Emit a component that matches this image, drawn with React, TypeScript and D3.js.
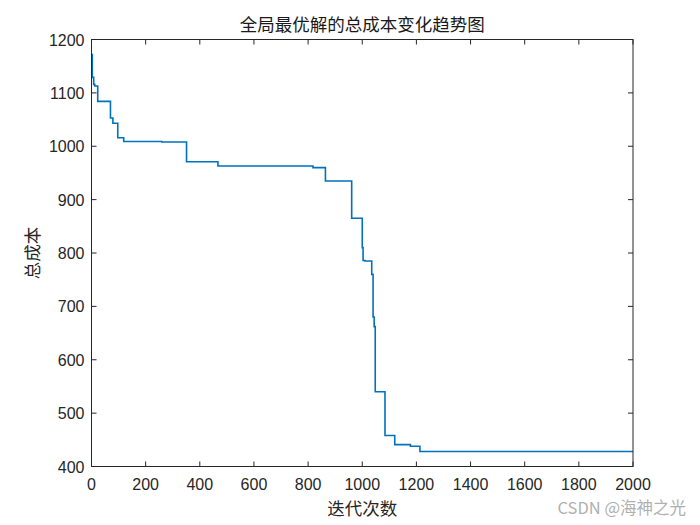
import * as d3 from 'd3'

// iterations where the best cost changes, and the cost from that point on
const iters = [0, 3, 8, 12, 23, 70, 79, 97, 119, 260, 351, 467, 818, 864, 961, 1000, 1003, 1010, 1035, 1040, 1044, 1048, 1052, 1084, 1120, 1178, 1213, 2000]
const costs = [1172, 1129, 1116, 1113, 1084, 1053, 1043, 1016, 1009, 1008, 971, 963, 960, 935, 865, 810, 786, 785, 760, 680, 662, 540, 540, 458, 441, 438, 428, 428]

const xTicks = [0, 200, 400, 600, 800, 1000, 1200, 1400, 1600, 1800, 2000]
const yTicks = [400, 500, 600, 700, 800, 900, 1000, 1100, 1200]

const title = '全局最优解的总成本变化趋势图'
const xLabel = '迭代次数'
const yLabel = '总成本'

export default function App() {
  const W = 700
  const H = 525
  const m = { left: 91.5, right: 67, top: 39.5, bottom: 58.5 }
  const x = d3.scaleLinear().domain([0, 2000]).range([m.left, W - m.right])
  const y = d3.scaleLinear().domain([400, 1200]).range([H - m.bottom, m.top])
  const pts = iters.map((it, i) => [it, costs[i]] as [number, number])
  const path = d3.line<[number, number]>()
    .x(d => x(d[0]))
    .y(d => y(d[1]))
    .curve(d3.curveStepAfter)(pts) || ''
  const font = '"Liberation Sans", Arial, sans-serif'
  const cjk = '"Noto Sans CJK SC", sans-serif'
  const tk = 5
  const x0 = x(0), x1 = x(2000), y0 = y(400), y1 = y(1200)

  return (
    <svg width={W} height={H} style={{ position: 'absolute', left: 0, top: 0, background: '#fff' }}>
      <rect x={0} y={0} width={W} height={H} fill="#fff" />
      <path d={path} fill="none" stroke="#0072BD" strokeWidth={1.6} />
      <g stroke="#262626" strokeWidth={1}>
        {xTicks.map(t => (
          <g key={'x' + t}>
            <line x1={x(t)} x2={x(t)} y1={y0} y2={y0 - tk} />
            <line x1={x(t)} x2={x(t)} y1={y1} y2={y1 + tk} />
          </g>
        ))}
        {yTicks.map(t => (
          <g key={'y' + t}>
            <line x1={x0} x2={x0 + tk} y1={y(t)} y2={y(t)} />
            <line x1={x1} x2={x1 - tk} y1={y(t)} y2={y(t)} />
          </g>
        ))}
        <rect x={x0} y={y1} width={x1 - x0} height={y0 - y1} fill="none" />
      </g>
      <g fontFamily={font} fontSize={16} fill="#262626">
        {xTicks.map(t => (
          <text key={'xl' + t} x={x(t)} y={y0 + 23} textAnchor="middle">{t}</text>
        ))}
        {yTicks.map(t => (
          <text key={'yl' + t} x={x0 - 7} y={y(t) + 6} textAnchor="end">{t}</text>
        ))}
      </g>
      <text x={(x0 + x1) / 2} y={31} textAnchor="middle" fontFamily={cjk} fontSize={17.5} fill="#1a1a1a">{title}</text>
      <text x={(x0 + x1) / 2} y={515} textAnchor="middle" fontFamily={cjk} fontSize={17.5} fill="#262626">{xLabel}</text>
      <text transform={`translate(39,${(y0 + y1) / 2}) rotate(-90)`} textAnchor="middle" fontFamily={cjk} fontSize={17.5} fill="#262626">{yLabel}</text>
      <text x={686} y={514} textAnchor="end" fontFamily={cjk} fontSize={16.5} fill="#b0b0b0">CSDN @海神之光</text>
    </svg>
  )
}
